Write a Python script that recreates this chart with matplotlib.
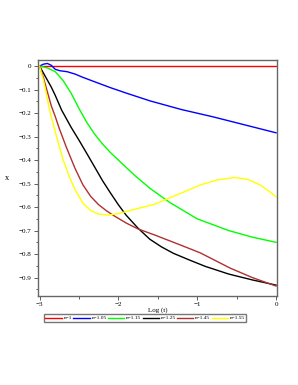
import numpy as np
import matplotlib

matplotlib.use("Agg")
import matplotlib.pyplot as plt
from matplotlib.ticker import MultipleLocator, FuncFormatter

# curve samples (x = Log(t))
red_x = [-3.0, 0.0]
red_y = [0.0, 0.0]

blue_x = [-3.0, -2.95, -2.9, -2.85, -2.8, -2.74, -2.65, -2.55, -2.45, -2.3,
          -2.1, -1.9, -1.6, -1.2, -0.8, -0.4, 0.0]
blue_y = [0.0, 0.008, 0.011, 0.003, -0.014, -0.02, -0.024, -0.034, -0.048, -0.067,
          -0.092, -0.115, -0.148, -0.185, -0.216, -0.25, -0.284]

green_x = [-3.0, -2.9, -2.8, -2.7, -2.6, -2.5, -2.4, -2.3, -2.2, -2.1, -2.0,
           -1.8, -1.6, -1.35, -1.0, -0.6, -0.3, 0.0]
green_y = [0.0, -0.008, -0.024, -0.062, -0.115, -0.18, -0.24, -0.29, -0.332, -0.368, -0.40,
           -0.463, -0.52, -0.58, -0.65, -0.70, -0.728, -0.75]

black_x = [-3.0, -2.95, -2.9, -2.85, -2.8, -2.72, -2.6, -2.5, -2.4, -2.3,
           -2.2, -2.1, -2.0, -1.9, -1.75, -1.6, -1.45, -1.3, -1.1, -0.9,
           -0.6, -0.3, 0.0]
black_y = [0.0, -0.03, -0.06, -0.09, -0.125, -0.187, -0.26, -0.315, -0.372, -0.43,
           -0.488, -0.54, -0.59, -0.635, -0.69, -0.737, -0.77, -0.797, -0.825, -0.852,
           -0.885, -0.91, -0.932]

brown_x = [-3.0, -2.95, -2.9, -2.85, -2.8, -2.75, -2.66, -2.55, -2.45, -2.35,
           -2.25, -2.15, -2.05, -1.9, -1.75, -1.53, -1.2, -0.96, -0.58, -0.3, 0.0]
brown_y = [0.0, -0.05, -0.11, -0.17, -0.215, -0.265, -0.345, -0.435, -0.505, -0.555,
           -0.59, -0.616, -0.638, -0.668, -0.693, -0.72, -0.763, -0.795, -0.86, -0.9, -0.936]

yellow_x = [-3.0, -2.95, -2.9, -2.87, -2.8, -2.7, -2.61, -2.55, -2.45, -2.35,
            -2.25, -2.13, -2.0, -1.8, -1.53, -1.4, -1.2, -0.96, -0.75, -0.52,
            -0.35, -0.2, -0.1, 0.0]
yellow_y = [0.0, -0.06, -0.14, -0.19, -0.28, -0.4, -0.48, -0.525, -0.583, -0.615,
            -0.63, -0.634, -0.628, -0.61, -0.587, -0.568, -0.54, -0.506, -0.485, -0.474,
            -0.483, -0.506, -0.53, -0.556]

labels = ["n=1", "n=1.05", "n=1.15", "n=1.25", "n=1.45", "n=1.55"]

plt.rcParams["font.family"] = ["Liberation Serif", "DejaVu Serif"]

fig = plt.figure(figsize=(2.98, 3.85), dpi=100)
ax = fig.add_axes([0.1265, 0.232, 0.804, 0.612])

series = [
    (red_x, red_y, "#ff0000"),
    (blue_x, blue_y, "#0000ff"),
    (green_x, green_y, "#00ff00"),
    (black_x, black_y, "#000000"),
    (brown_x, brown_y, "#b03030"),
    (yellow_x, yellow_y, "#ffff00"),
]
handles = []
for (xs, ys, c), lab in zip(series, labels):
    h, = ax.plot(xs, ys, color=c, lw=1.0, label=lab)
    handles.append(h)

ax.set_xlim(-3.023, 0.016)
ax.set_ylim(-0.977, 0.0255)

ax.xaxis.set_major_locator(MultipleLocator(1))
ax.xaxis.set_minor_locator(MultipleLocator(0.5))
ax.yaxis.set_major_locator(MultipleLocator(0.1))
ax.yaxis.set_minor_locator(MultipleLocator(0.05))


def fmt(v, pos):
    if abs(v) < 1e-9:
        return "0"
    s = f"{v:.1f}" if abs(v - round(v)) > 1e-9 else f"{int(round(v))}"
    return s.replace("-", "\u2212")


ax.xaxis.set_major_formatter(FuncFormatter(fmt))
ax.yaxis.set_major_formatter(FuncFormatter(fmt))
ax.tick_params(which="major", length=3, width=0.6, labelsize=5, pad=1.5, color="#444444")
ax.tick_params(which="minor", length=1.8, width=0.6, color="#444444")

for sp in ax.spines.values():
    sp.set_color("#666666")
    sp.set_linewidth(1.0)

ax.set_xlabel("Log (t)", fontsize=5, labelpad=0.5)
ax.set_ylabel("x", fontsize=6, rotation=0, labelpad=8, va="center")

fig.legend(handles=handles, labels=labels, loc="center", bbox_to_anchor=(0.487, 0.174),
           ncol=6, fontsize=3.9, frameon=True, fancybox=False, edgecolor="#555555",
           handlelength=3.0, handletextpad=0.35, columnspacing=0.25,
           borderpad=0.25, borderaxespad=0)

fig.savefig("out.png", dpi=100)
